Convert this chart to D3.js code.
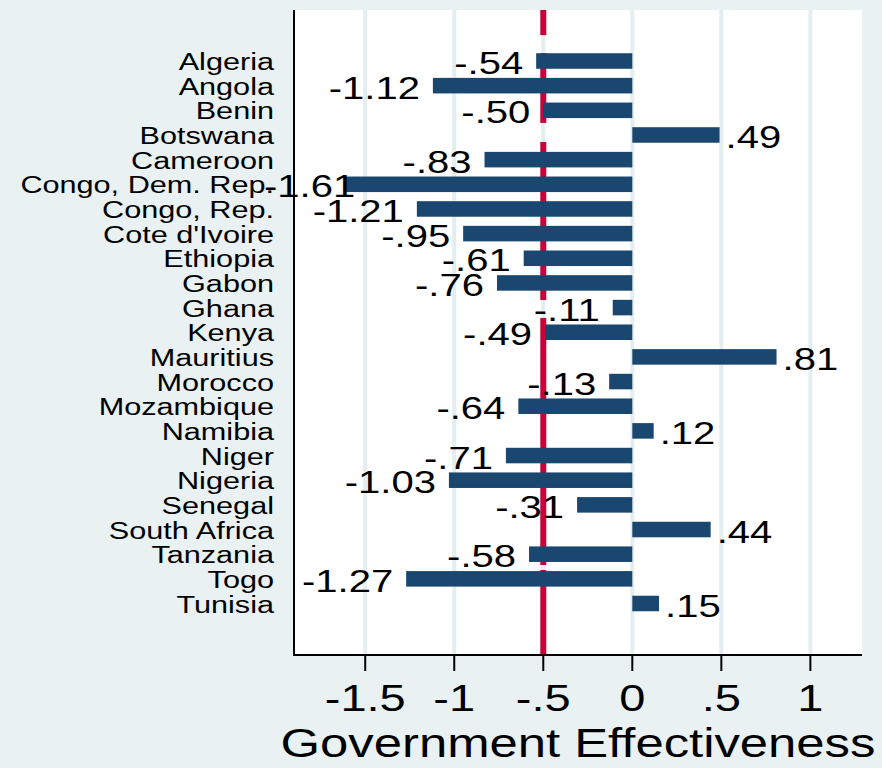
<!DOCTYPE html>
<html lang="en">
<head>
    <meta charset="UTF-8">
    <title>Government Effectiveness</title>
    <script src="https://d3js.org/d3.v7.min.js"></script>
    <style>
        body {
            margin : 0;
            background : #e9f1f3;
        }
        text {
            font-family: "Liberation Sans", Arial, Helvetica, sans-serif;
            fill : #000;
        }
    </style>
</head>
<body>
    <div id="root"></div>

    <script>
        const countries = ["Algeria", "Angola", "Benin", "Botswana", "Cameroon", "Congo, Dem. Rep.",
            "Congo, Rep.", "Cote d'Ivoire", "Ethiopia", "Gabon", "Ghana", "Kenya", "Mauritius",
            "Morocco", "Mozambique", "Namibia", "Niger", "Nigeria", "Senegal", "South Africa",
            "Tanzania", "Togo", "Tunisia"]
        const effectiveness = [-.54, -1.12, -.50, .49, -.83, -1.61, -1.21, -.95, -.61, -.76, -.11, -.49,
            .81, -.13, -.64, .12, -.71, -1.03, -.31, .44, -.58, -1.27, .15]
        const xTicks = [-1.5, -1, -.5, 0, .5, 1]
        const xTickLabels = ["-1.5", "-1", "-.5", "0", ".5", "1"]
        const refValue = -.5
        // breaks in the reference line, in row units (0 = Algeria)
        const refGaps = [[-1.05, -0.32], [2.51, 3.28], [9.69, 10.42], [20.44, 20.64]]

        const W = 882, H = 768
        const plot = {left: 294, right: 862, top: 10, bottom: 655}
        const sx = 1.27 // text in the picture is drawn wide
        const sxCat = 1.315

        const fmt = v => {
            let s = Math.abs(v).toFixed(2).replace(/^0/, "")
            return (v < 0 ? "-" : "") + s
        }

        const svg = d3.select("#root").append("svg")
            .attr("width", W)
            .attr("height", H)

        svg.append("rect")
            .attr("width", W).attr("height", H)
            .attr("fill", "#e9f1f3")
        svg.append("rect")
            .attr("x", plot.left).attr("y", plot.top)
            .attr("width", plot.right - plot.left)
            .attr("height", plot.bottom - plot.top)
            .attr("fill", "#fff")

        const x = d3.scaleLinear().domain([-1.9, 1.29]).range([plot.left, plot.right])
        const y = d3.scalePoint().domain(countries).range([61, 603.5])
        const rowY = d3.scaleLinear().domain([0, countries.length - 1]).range([61, 603.5])
        const barH = y.step() * 0.63

        // grid
        svg.append("g")
            .selectAll("line")
            .data(xTicks)
            .enter()
            .append("line")
            .attr("x1", d => x(d)).attr("x2", d => x(d))
            .attr("y1", plot.top).attr("y2", plot.bottom)
            .attr("stroke", "#e4eef1")
            .attr("stroke-width", 4)

        // reference line, drawn in pieces between the gaps
        let pieces = []
        let start = plot.top
        refGaps.forEach(g => {
            pieces.push([start, rowY(g[0])])
            start = rowY(g[1])
        })
        pieces.push([start, plot.bottom])
        svg.append("g")
            .selectAll("line")
            .data(pieces)
            .enter()
            .append("line")
            .attr("x1", x(refValue)).attr("x2", x(refValue))
            .attr("y1", d => d[0]).attr("y2", d => d[1])
            .attr("stroke", "#c8033a")
            .attr("stroke-width", 6)

        const rows = countries.map((c, i) => ({name: c, value: effectiveness[i]}))

        // bars
        svg.append("g")
            .selectAll("rect")
            .data(rows)
            .enter()
            .append("rect")
            .attr("x", d => Math.min(x(0), x(d.value)))
            .attr("y", d => y(d.name) - barH / 2)
            .attr("width", d => Math.abs(x(d.value) - x(0)))
            .attr("height", barH)
            .attr("fill", "#1a476f")

        // value labels
        const minLeft = 264
        svg.append("g")
            .selectAll("text")
            .data(rows)
            .enter()
            .append("text")
            .attr("font-size", 31.5)
            .attr("text-anchor", d => d.value < 0 ? "end" : "start")
            .text(d => fmt(d.value))
            .attr("transform", function (d) {
                let ax
                if (d.value < 0) {
                    const w = this.getComputedTextLength() * sx
                    ax = Math.max(x(d.value) - 13, minLeft + w)
                } else {
                    ax = x(d.value) + 6
                }
                return `translate(${ax},${y(d.name) + 13}) scale(${sx},1)`
            })

        // category labels
        svg.append("g")
            .selectAll("text")
            .data(countries)
            .enter()
            .append("text")
            .attr("font-size", 23.3)
            .attr("text-anchor", "end")
            .attr("transform", d => `translate(274,${y(d) + 9}) scale(${sxCat},1)`)
            .text(d => d)

        // axes
        svg.append("line")
            .attr("x1", plot.left).attr("x2", plot.left)
            .attr("y1", plot.top).attr("y2", plot.bottom + 1)
            .attr("stroke", "#000").attr("stroke-width", 2)
        svg.append("line")
            .attr("x1", plot.left - 1).attr("x2", plot.right)
            .attr("y1", plot.bottom).attr("y2", plot.bottom)
            .attr("stroke", "#000").attr("stroke-width", 2)

        svg.append("g")
            .selectAll("line")
            .data(xTicks)
            .enter()
            .append("line")
            .attr("x1", d => x(d)).attr("x2", d => x(d))
            .attr("y1", plot.bottom).attr("y2", plot.bottom + 16)
            .attr("stroke", "#000").attr("stroke-width", 2)

        svg.append("g")
            .selectAll("text")
            .data(xTicks)
            .enter()
            .append("text")
            .attr("font-size", 37)
            .attr("text-anchor", "middle")
            .attr("transform", d => `translate(${x(d)},711) scale(${sx},1)`)
            .text((d, i) => xTickLabels[i])

        svg.append("text")
            .attr("font-size", 40)
            .attr("text-anchor", "middle")
            .attr("transform", `translate(${(plot.left + plot.right) / 2},757) scale(${sx},1)`)
            .text("Government Effectiveness")
    </script>
</body>
</html>
